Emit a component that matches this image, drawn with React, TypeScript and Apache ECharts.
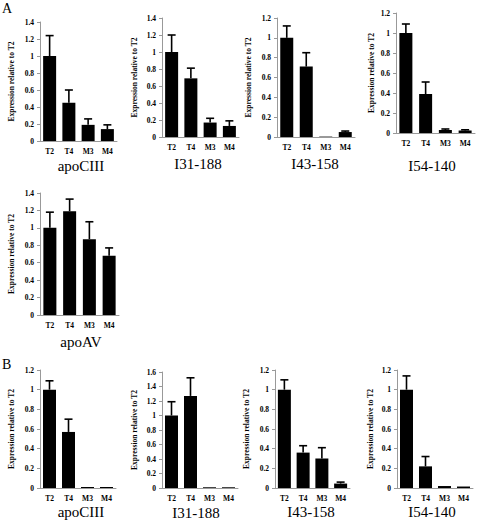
import React, { useEffect, useRef } from "react";
import * as echarts from "echarts";

const categories = ["T2", "T4", "M3", "M4"];
const yAxisTitle = "Expression relative to T2";

// Panel A
const aApoCIIIMean = [1.0, 0.45, 0.19, 0.14];
const aApoCIIIErrTop = [1.24, 0.6, 0.26, 0.19];
const aI31Mean = [1.0, 0.69, 0.17, 0.13];
const aI31ErrTop = [1.2, 0.81, 0.22, 0.19];
const aI43Mean = [1.0, 0.71, 0.004, 0.05];
const aI43ErrTop = [1.12, 0.85, 0.004, 0.06];
const aI54Mean = [1.0, 0.39, 0.03, 0.025];
const aI54ErrTop = [1.09, 0.51, 0.04, 0.032];
const aApoAVMean = [1.0, 1.19, 0.87, 0.68];
const aApoAVErrTop = [1.18, 1.33, 1.07, 0.77];

// Panel B
const bApoCIIIMean = [1.0, 0.57, 0.01, 0.01];
const bApoCIIIErrTop = [1.09, 0.7, 0.015, 0.012];
const bI31Mean = [1.0, 1.27, 0.01, 0.01];
const bI31ErrTop = [1.19, 1.52, 0.015, 0.015];
const bI43Mean = [1.0, 0.36, 0.3, 0.045];
const bI43ErrTop = [1.1, 0.43, 0.41, 0.06];
const bI54Mean = [1.0, 0.22, 0.02, 0.015];
const bI54ErrTop = [1.14, 0.32, 0.025, 0.02];

const panelTitles = ["apoCIII", "I31-188", "I43-158", "I54-140", "apoAV", "apoCIII", "I31-188", "I43-158", "I54-140"];
const axisMaxima = [1.4, 1.4, 1.2, 1.2, 1.4, 1.2, 1.6, 1.2, 1.2];

const panelData = [
  [aApoCIIIMean, aApoCIIIErrTop],
  [aI31Mean, aI31ErrTop],
  [aI43Mean, aI43ErrTop],
  [aI54Mean, aI54ErrTop],
  [aApoAVMean, aApoAVErrTop],
  [bApoCIIIMean, bApoCIIIErrTop],
  [bI31Mean, bI31ErrTop],
  [bI43Mean, bI43ErrTop],
  [bI54Mean, bI54ErrTop],
];

// layout: grid left, top, width, height, name gap, title x, title y
const layouts = [
  { l: 40, t: 22, w: 77, h: 119, gap: 25, tx: 81, ty: 166 },
  { l: 162, t: 18, w: 77, h: 119, gap: 24, tx: 198, ty: 164 },
  { l: 277, t: 18, w: 78, h: 119, gap: 25, tx: 315, ty: 164 },
  { l: 396, t: 13, w: 79, h: 120, gap: 21, tx: 432, ty: 166 },
  { l: 40, t: 193, w: 79, h: 122, gap: 25, tx: 81, ty: 342 },
  { l: 40, t: 370, w: 76, h: 118, gap: 25, tx: 81, ty: 512 },
  { l: 162, t: 372, w: 76, h: 116, gap: 24, tx: 196, ty: 513 },
  { l: 275, t: 370, w: 75, h: 118, gap: 25, tx: 311, ty: 512 },
  { l: 397, t: 370, w: 76, h: 118, gap: 23, tx: 432, ty: 512 },
];

const FONT = "'Liberation Serif', 'Times New Roman', serif";

export default function App() {
  const ref = useRef<HTMLDivElement>(null);
  useEffect(() => {
    if (!ref.current) return;
    const chart = echarts.init(ref.current, null, { renderer: "svg" });
    const grid: any[] = [];
    const xAxis: any[] = [];
    const yAxis: any[] = [];
    const series: any[] = [];
    const texts: any[] = [];

    layouts.forEach((lay, i) => {
      grid.push({ left: lay.l, top: lay.t, width: lay.w, height: lay.h, containLabel: false });
      xAxis.push({
        type: "category",
        gridIndex: i,
        data: categories,
        axisLine: { lineStyle: { color: "#999", width: 1 } },
        axisTick: { show: false },
        axisLabel: { color: "#000", fontFamily: FONT, fontWeight: "bold", fontSize: 7.5, margin: 6 },
      });
      yAxis.push({
        type: "value",
        gridIndex: i,
        min: 0,
        max: axisMaxima[i],
        interval: 0.2,
        name: yAxisTitle,
        nameLocation: "middle",
        nameGap: lay.gap,
        nameRotate: 90,
        nameTextStyle: { color: "#000", fontFamily: FONT, fontWeight: "bold", fontSize: 7.5 },
        splitLine: { show: false },
        axisLine: { show: true, lineStyle: { color: "#999", width: 1 } },
        axisTick: { show: true, length: 3, lineStyle: { color: "#999" } },
        axisLabel: {
          color: "#000",
          fontFamily: FONT,
          fontWeight: "bold",
          fontSize: 7.5,
          margin: 6,
          formatter: (v: number) => String(Math.round(v * 10) / 10),
        },
      });
      const [mean, err] = panelData[i];
      series.push({
        type: "bar",
        xAxisIndex: i,
        yAxisIndex: i,
        data: mean,
        barWidth: 13,
        itemStyle: { color: "#000" },
        z: 2,
      });
      series.push({
        type: "custom",
        xAxisIndex: i,
        yAxisIndex: i,
        data: mean.map((m, k) => [k, m, err[k]]),
        z: 3,
        renderItem: (params: any, api: any) => {
          const lo = api.coord([api.value(0), api.value(1)]);
          const hi = api.coord([api.value(0), api.value(2)]);
          if (lo[1] - hi[1] < 0.5) return { type: "group", children: [] };
          const cap = 4;
          return {
            type: "group",
            children: [
              {
                type: "line",
                shape: { x1: lo[0], y1: lo[1], x2: hi[0], y2: hi[1] },
                style: { stroke: "#000", lineWidth: 1.6 },
              },
              {
                type: "line",
                shape: { x1: hi[0] - cap, y1: hi[1], x2: hi[0] + cap, y2: hi[1] },
                style: { stroke: "#000", lineWidth: 1.6 },
              },
            ],
          };
        },
      });
      texts.push({
        type: "text",
        x: lay.tx,
        y: lay.ty,
        style: {
          text: panelTitles[i],
          fill: "#000",
          font: `15px ${FONT}`,
          textAlign: "center",
          textVerticalAlign: "middle",
        },
      });
    });

    texts.push({
      type: "text",
      x: 2,
      y: 8,
      style: { text: "A", fill: "#000", font: `14px ${FONT}`, textAlign: "left", textVerticalAlign: "middle" },
    });
    texts.push({
      type: "text",
      x: 2,
      y: 364,
      style: { text: "B", fill: "#000", font: `14px ${FONT}`, textAlign: "left", textVerticalAlign: "middle" },
    });

    chart.setOption({
      animation: false,
      backgroundColor: "#fff",
      grid,
      xAxis,
      yAxis,
      series,
      graphic: texts,
    });
    return () => chart.dispose();
  }, []);
  return (
    <div
      ref={ref}
      style={{ position: "fixed", left: 0, top: 0, width: 477, height: 522, background: "#fff" }}
    />
  );
}
